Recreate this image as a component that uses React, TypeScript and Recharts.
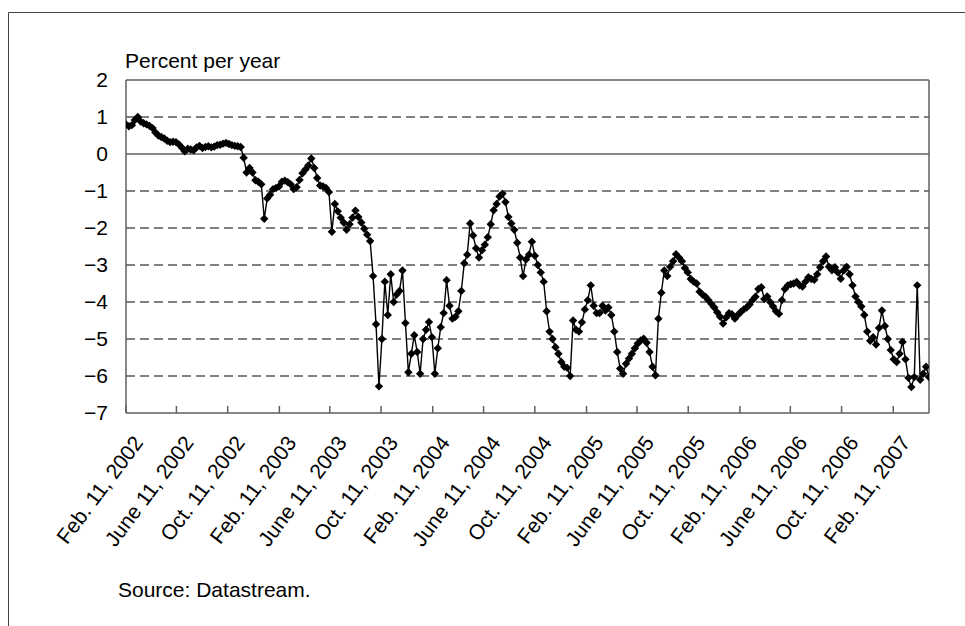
import React from "react";
import { LineChart, Line, XAxis, YAxis, ReferenceLine } from "recharts";

const rates2002 = [
  0.8, 0.75, 0.78, 0.92, 1.0, 0.88, 0.83, 0.8, 0.76, 0.7, 0.58, 0.5, 0.46, 0.42, 0.36, 0.32,
  0.33, 0.32, 0.26, 0.17, 0.07, 0.14, 0.12, 0.1, 0.18, 0.22, 0.16, 0.19, 0.21, 0.18, 0.2, 0.24,
  0.25, 0.28, 0.3, 0.27, 0.24, 0.22, 0.21, 0.19, -0.1, -0.5, -0.38, -0.5, -0.71, -0.75, -0.82,
];
const rates2003 = [
  -1.75, -1.2, -1.1, -0.95, -0.92, -0.88, -0.75, -0.72, -0.76, -0.82, -0.95, -0.9, -0.7, -0.52,
  -0.42, -0.31, -0.12, -0.38, -0.65, -0.85, -0.88, -0.92, -1.03, -2.1, -1.35, -1.55, -1.72, -1.85,
  -2.05, -1.9, -1.72, -1.53, -1.7, -1.85, -2.02, -2.18, -2.35, -3.3, -4.6, -6.28, -5.0, -3.45,
  -4.35, -3.25, -4.0, -3.8, -3.7, -3.15, -4.57, -5.9, -5.4, -4.9,
];
const rates2004 = [
  -5.35, -5.94, -5.0, -4.75, -4.54, -4.95, -5.94, -5.25, -4.68, -4.3, -3.41, -4.1, -4.45, -4.4,
  -4.25, -3.7, -2.95, -2.72, -1.88, -2.2, -2.55, -2.8, -2.6, -2.45, -2.25, -1.9, -1.52, -1.35,
  -1.15, -1.07, -1.3, -1.7, -1.88, -2.05, -2.4, -2.8, -3.3, -2.85, -2.72, -2.37, -2.75, -3.0,
  -3.2, -3.45, -4.25, -4.8, -5.0, -5.22, -5.4, -5.62, -5.75, -5.78,
];
const rates2005 = [
  -6.0, -4.5, -4.75, -4.8, -4.55, -4.2, -3.95, -3.55, -4.1, -4.3, -4.3, -4.1, -4.23, -4.15,
  -4.35, -4.8, -5.35, -5.8, -5.94, -5.67, -5.53, -5.4, -5.25, -5.12, -5.04, -4.99, -5.1, -5.35,
  -5.75, -5.98, -4.45, -3.75, -3.15, -3.3, -3.05, -2.9, -2.71, -2.8, -2.9, -3.08, -3.2, -3.38,
  -3.45, -3.5, -3.72, -3.8, -3.86, -3.95, -4.05, -4.15, -4.28, -4.4,
];
const rates2006 = [
  -4.58, -4.42, -4.3, -4.33, -4.45, -4.35, -4.27, -4.2, -4.15, -4.07, -3.95, -3.86, -3.65, -3.6,
  -3.92, -3.85, -4.0, -4.12, -4.25, -4.32, -3.95, -3.65, -3.55, -3.52, -3.5, -3.46, -3.55, -3.58,
  -3.45, -3.33, -3.38, -3.4, -3.25, -3.06, -2.9, -2.77, -3.05, -3.14, -3.06, -3.2, -3.37, -3.15,
  -3.05, -3.25, -3.55, -3.85, -4.0, -4.12, -4.35, -4.8, -5.05, -4.95,
];
const rates2007 = [
  -5.15, -4.7, -4.23, -4.65, -5.0, -5.3, -5.55, -5.62, -5.4, -5.08, -5.55, -6.05, -6.3, -6.03,
  -3.55, -6.1, -5.94, -5.75, -6.03,
];
// First weekly observation in each year's array
const firstWeekOfYear = ["2002-02-11", "2003-01-06", "2004-01-05", "2005-01-03", "2006-01-02", "2007-01-01"];
const domainDates = ["2002-02-11", "2007-05-07"];

const tickDates = [
  "2002-02-11", "2002-06-11", "2002-10-11", "2003-02-11", "2003-06-11", "2003-10-11",
  "2004-02-11", "2004-06-11", "2004-10-11", "2005-02-11", "2005-06-11", "2005-10-11",
  "2006-02-11", "2006-06-11", "2006-10-11", "2007-02-11",
];
const tickLabels = [
  "Feb. 11, 2002", "June 11, 2002", "Oct. 11, 2002", "Feb. 11, 2003", "June 11, 2003", "Oct. 11, 2003",
  "Feb. 11, 2004", "June 11, 2004", "Oct. 11, 2004", "Feb. 11, 2005", "June 11, 2005", "Oct. 11, 2005",
  "Feb. 11, 2006", "June 11, 2006", "Oct. 11, 2006", "Feb. 11, 2007",
];
const yTicks = [2, 1, 0, -1, -2, -3, -4, -5, -6, -7];
const dashedGrid = [1, -1, -2, -3, -4, -5, -6];

const DAY = 86400000;
const toTs = (s: string) => Date.parse(s + "T00:00:00Z");
const yearSeries = [rates2002, rates2003, rates2004, rates2005, rates2006, rates2007];
const data = yearSeries.flatMap((arr, k) =>
  arr.map((v, i) => ({ t: toTs(firstWeekOfYear[k]) + i * 7 * DAY, v }))
);
const tickTs = tickDates.map(toTs);
const labelByTs: Record<number, string> = {};
tickTs.forEach((t, i) => (labelByTs[t] = tickLabels[i]));
const domain = [toTs(domainDates[0]), toTs(domainDates[1])];

const FONT = "'Liberation Sans', Arial, Helvetica, sans-serif";
const AXIS = "#5f5f5f";

const XTick = (props: any) => {
  const { x, y, payload } = props;
  return (
    <g>
      <line x1={x} y1={y} x2={x} y2={y - 7} stroke={AXIS} strokeWidth={1.5} />
      <text
        transform={`translate(${x + 18},${y + 30}) rotate(-53)`}
        textAnchor="end"
        fontSize={21}
        fontFamily={FONT}
        fill="#000"
      >
        {labelByTs[payload.value]}
      </text>
    </g>
  );
};

const Diamond = (props: any) => {
  const { cx, cy, index } = props;
  if (cx == null || cy == null) return <g key={index} />;
  const r = 4.2;
  return (
    <path
      key={index}
      d={`M${cx},${cy - r}L${cx + r},${cy}L${cx},${cy + r}L${cx - r},${cy}Z`}
      fill="#000"
      stroke="none"
    />
  );
};

const fmtY = (v: number) => (v < 0 ? "\u2212" + Math.abs(v) : String(v));

export default function App() {
  return (
    <div
      style={{
        position: "absolute",
        left: 0,
        top: 0,
        width: 965,
        height: 626,
        overflow: "hidden",
        background: "#fff",
        fontFamily: FONT,
      }}
    >
      <LineChart
        width={965}
        height={626}
        data={data}
        margin={{ top: 80, right: 36, bottom: 13, left: 0 }}
      >
        <XAxis
          dataKey="t"
          type="number"
          domain={domain}
          ticks={tickTs}
          interval={0}
          tickLine={false}
          tickSize={0}
          tickMargin={0}
          height={200}
          axisLine={{ stroke: AXIS, strokeWidth: 1.5 }}
          tick={<XTick />}
          allowDataOverflow
        />
        <YAxis
          type="number"
          domain={[-7, 2]}
          ticks={yTicks}
          interval={0}
          width={126}
          tickLine={false}
          tickSize={0}
          tickMargin={18}
          tickFormatter={fmtY}
          axisLine={{ stroke: AXIS, strokeWidth: 1.5 }}
          tick={{ fontSize: 21, fill: "#000", fontFamily: FONT }}
          allowDataOverflow
        />
        {dashedGrid.map((g) => (
          <ReferenceLine key={g} y={g} stroke="#555" strokeWidth={1.3} strokeDasharray="9 5" />
        ))}
        <ReferenceLine y={0} stroke={AXIS} strokeWidth={1.5} />
        <ReferenceLine y={2} stroke={AXIS} strokeWidth={1.5} />
        <ReferenceLine x={domain[1]} stroke={AXIS} strokeWidth={1.5} />
        <Line
          type="linear"
          dataKey="v"
          stroke="#000"
          strokeWidth={1.4}
          dot={<Diamond />}
          activeDot={false}
          isAnimationActive={false}
        />
      </LineChart>
      <svg
        width={965}
        height={626}
        style={{ position: "absolute", left: 0, top: 0, pointerEvents: "none" }}
      >
        <line x1={8.5} y1={12.5} x2={965} y2={12.5} stroke="#444" strokeWidth={1} />
        <line x1={8.5} y1={12.5} x2={8.5} y2={626} stroke="#444" strokeWidth={1} />
        <text x={125} y={68} fontSize={21} fontFamily={FONT} fill="#000">
          Percent per year
        </text>
        <text x={118} y={597} fontSize={21} fontFamily={FONT} fill="#000">
          Source: Datastream.
        </text>
      </svg>
    </div>
  );
}
